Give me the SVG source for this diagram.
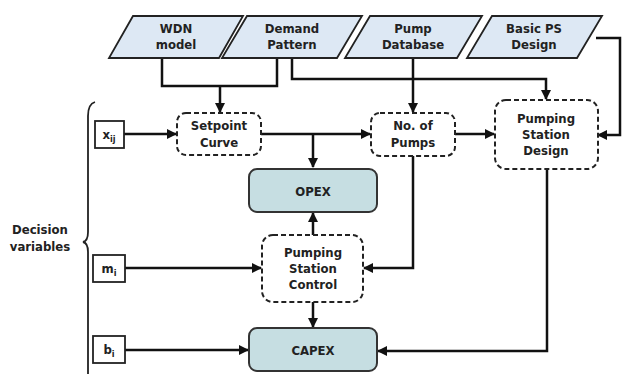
<svg xmlns="http://www.w3.org/2000/svg" width="622" height="374" viewBox="0 0 622 374">
  <style>
    .txt { font-family: "DejaVu Sans Condensed", "DejaVu Sans", sans-serif; font-weight: bold; font-size: 13px; fill: #222; text-anchor: middle; font-stretch: condensed; }
    .data { fill: #dde8f4; stroke: #222; stroke-width: 1.8; }
    .proc { fill: #fff; stroke: #222; stroke-width: 2; stroke-dasharray: 5 3; }
    .cost { fill: #c6dee2; stroke: #333; stroke-width: 2; }
    .var { fill: #fff; stroke: #222; stroke-width: 1.8; }
    .wire { fill: none; stroke: #111; stroke-width: 2.5; }
    .sub { font-size: 9px; }
  </style>
  <defs>
    <marker id="arrow" viewBox="0 0 10 10" refX="9" refY="5" markerWidth="4" markerHeight="4" orient="auto" markerUnits="strokeWidth">
      <path d="M0,0 L10,5 L0,10 z" fill="#111"/>
    </marker>
  </defs>
  <rect width="622" height="374" fill="#fff"/>

  <!-- connectors -->
  <g id="connectors" class="wire">
    <path d="M162,58 V86 H277 V58"/>
    <path d="M220,86 V112" marker-end="url(#arrow)"/>
    <path d="M292,58 V79 H546 V99" marker-end="url(#arrow)"/>
    <path d="M413,58 V112" marker-end="url(#arrow)"/>
    <path d="M596,38 H620 V135 H598" marker-end="url(#arrow)"/>
    <path d="M124,134 H176" marker-end="url(#arrow)"/>
    <path d="M261,134 H370" marker-end="url(#arrow)"/>
    <path d="M313,134 V167" marker-end="url(#arrow)"/>
    <path d="M455,134 H494" marker-end="url(#arrow)"/>
    <path d="M413,156 V268 H364" marker-end="url(#arrow)"/>
    <path d="M547,169 V351 H378" marker-end="url(#arrow)"/>
    <path d="M313,235 V213" marker-end="url(#arrow)"/>
    <path d="M313,302 V327" marker-end="url(#arrow)"/>
    <path d="M125,268 H261" marker-end="url(#arrow)"/>
    <path d="M125,350 H248" marker-end="url(#arrow)"/>
  </g>

  <!-- input data -->
  <g id="wdn-model">
    <polygon class="data" points="133,16 243,16 219,58 109,58"/>
    <text class="txt" x="176" y="33">WDN</text>
    <text class="txt" x="176" y="49">model</text>
  </g>
  <g id="demand-pattern">
    <polygon class="data" points="247,16 362,16 337,58 222,58"/>
    <text class="txt" x="292" y="33">Demand</text>
    <text class="txt" x="292" y="49">Pattern</text>
  </g>
  <g id="pump-database">
    <polygon class="data" points="370,16 482,16 457,58 345,58"/>
    <text class="txt" x="413" y="33">Pump</text>
    <text class="txt" x="413" y="49">Database</text>
  </g>
  <g id="basic-ps-design">
    <polygon class="data" points="492,16 602,16 577,58 467,58"/>
    <text class="txt" x="534" y="33">Basic PS</text>
    <text class="txt" x="534" y="49">Design</text>
  </g>

  <!-- processes -->
  <g id="setpoint-curve">
    <rect class="proc" x="177" y="113" width="84" height="42" rx="9"/>
    <text class="txt" x="219" y="130">Setpoint</text>
    <text class="txt" x="219" y="147">Curve</text>
  </g>
  <g id="no-of-pumps">
    <rect class="proc" x="371" y="113" width="84" height="43" rx="9"/>
    <text class="txt" x="413" y="130">No. of</text>
    <text class="txt" x="413" y="147">Pumps</text>
  </g>
  <g id="pumping-station-design">
    <rect class="proc" x="495" y="100" width="103" height="69" rx="11"/>
    <text class="txt" x="546" y="123">Pumping</text>
    <text class="txt" x="546" y="139">Station</text>
    <text class="txt" x="546" y="155">Design</text>
  </g>
  <g id="pumping-station-control">
    <rect class="proc" x="262" y="235" width="101" height="67" rx="11"/>
    <text class="txt" x="313" y="257">Pumping</text>
    <text class="txt" x="313" y="273">Station</text>
    <text class="txt" x="313" y="289">Control</text>
  </g>

  <!-- costs -->
  <g id="opex">
    <rect class="cost" x="249" y="169" width="128" height="43" rx="8"/>
    <text class="txt" x="313" y="196">OPEX</text>
  </g>
  <g id="capex">
    <rect class="cost" x="249" y="328" width="128" height="43" rx="8"/>
    <text class="txt" x="313" y="355">CAPEX</text>
  </g>

  <!-- decision variables -->
  <g id="x-ij">
    <rect class="var" x="95" y="121" width="29" height="27"/>
    <text class="txt" x="109" y="139">x<tspan class="sub" dy="3">ij</tspan></text>
  </g>
  <g id="m-i">
    <rect class="var" x="93" y="255" width="32" height="27"/>
    <text class="txt" x="109" y="273">m<tspan class="sub" dy="3">i</tspan></text>
  </g>
  <g id="b-i">
    <rect class="var" x="93" y="336" width="32" height="27"/>
    <text class="txt" x="109" y="354">b<tspan class="sub" dy="3">i</tspan></text>
  </g>

  <g id="decision-variables">
    <path d="M95,102 Q88,104 88,116 V232 Q88,241 83,242 Q88,243 88,252 V374" fill="none" stroke="#222" stroke-width="1.8"/>
    <text class="txt" x="40" y="234">Decision</text>
    <text class="txt" x="40" y="251">variables</text>
  </g>
</svg>
